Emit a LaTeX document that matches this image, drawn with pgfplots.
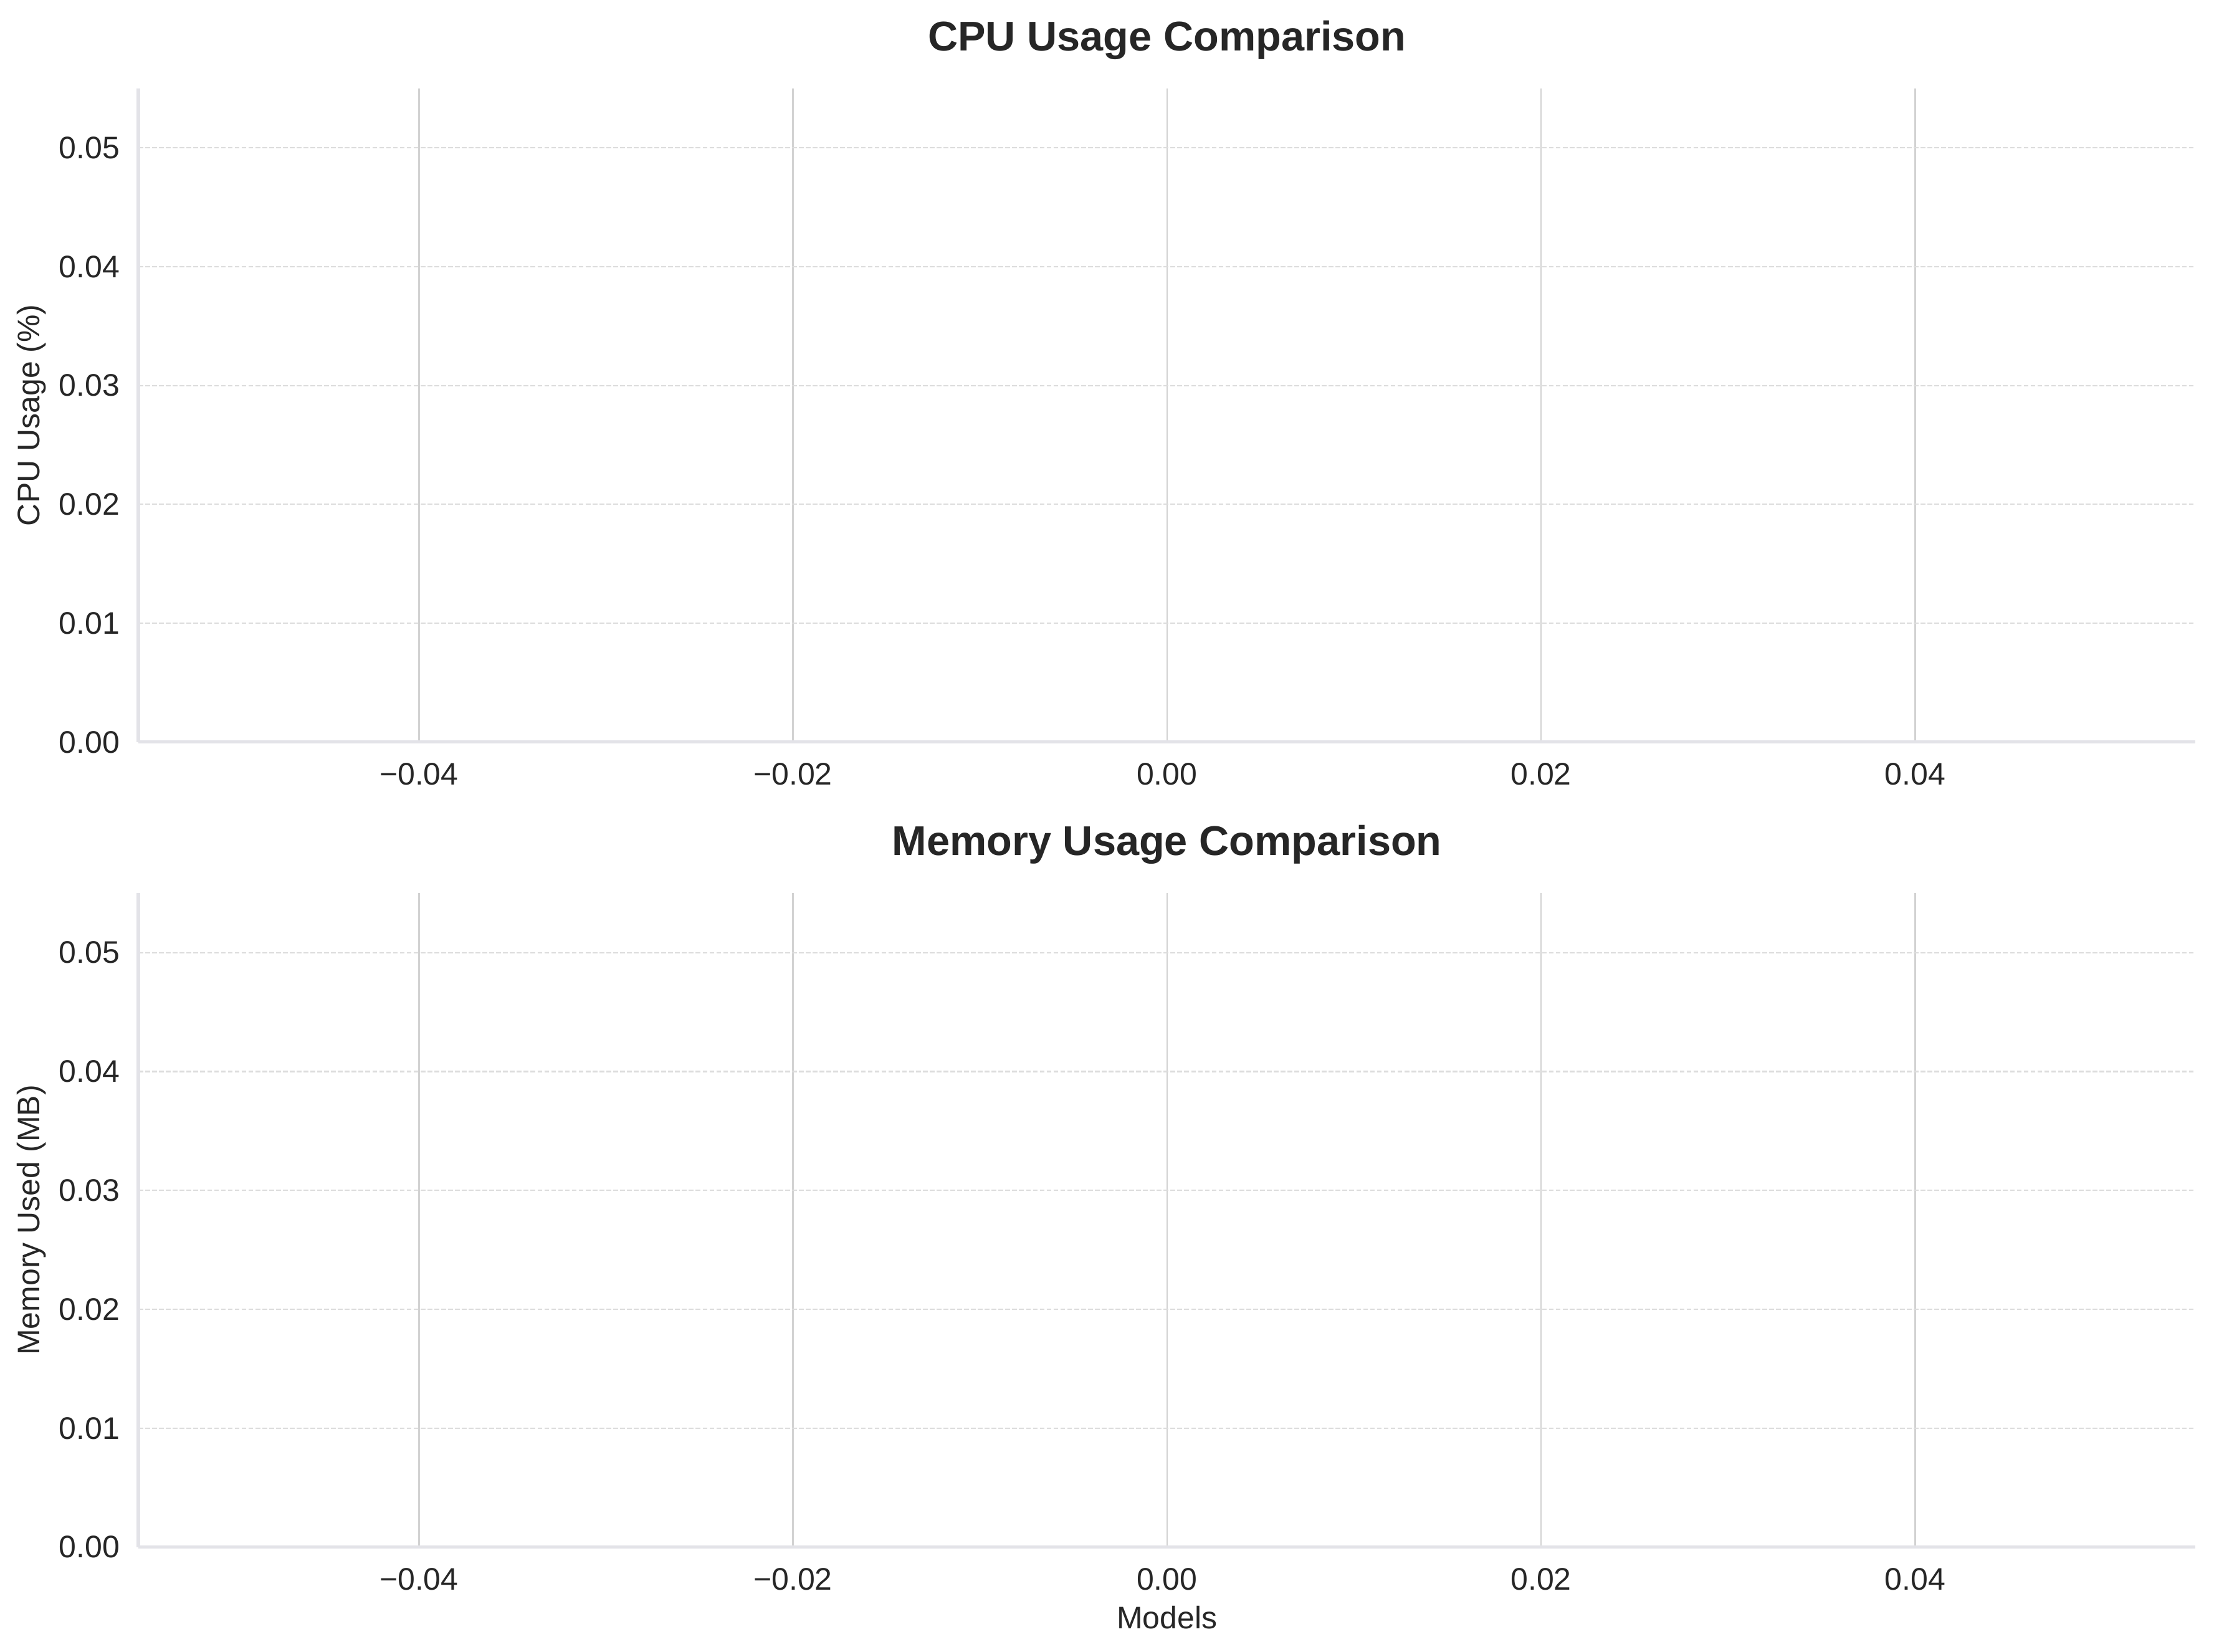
\documentclass[border=0pt]{standalone}
\usepackage{fontspec}
\setmainfont{Liberation Sans}
\usepackage{pgfplots}
\pgfplotsset{compat=1.18}
\definecolor{txt}{HTML}{262626}
\definecolor{spine}{HTML}{E3E3E8}
\definecolor{vgrid}{HTML}{D2D2D2}
\definecolor{hgrid}{HTML}{DCDCDC}
\pgfplotsset{
 myaxis/.style={
  scale only axis, width=792.3pt, height=251.8pt, anchor=south west,
  xmin=-0.055, xmax=0.055, ymin=0, ymax=0.055,
  scaled ticks=false,
  xtick={-0.04,-0.02,0,0.02,0.04}, xticklabels={−0.04,−0.02,0.00,0.02,0.04},
  ytick={0,0.01,0.02,0.03,0.04,0.05}, yticklabels={0.00,0.01,0.02,0.03,0.04,0.05},
  major tick length=0pt,
  axis x line*=bottom, axis y line*=left,
  axis line style={spine, line width=1.25pt, -},
  xmajorgrids, ymajorgrids,
  x grid style={vgrid, line width=0.6pt},
  y grid style={hgrid, line width=0.5pt, dash pattern=on 1.85pt off 0.8pt},
  tick label style={font=\fontsize{12}{14}\selectfont, text=txt, inner sep=0pt},
  xticklabel style={yshift=-8pt},
  yticklabel style={xshift=-7pt},
  every axis title/.style={at={(axis description cs:0.5,1)}, anchor=base, yshift=14.5pt, font=\bfseries\fontsize{16}{19}\selectfont, text=txt},
  every axis y label/.style={at={(axis description cs:-0.0521,0.5)}, rotate=90, anchor=center, font=\fontsize{12}{14}\selectfont, text=txt},
  every axis x label/.style={at={(axis description cs:0.5,-0.108)}, anchor=center, font=\fontsize{12}{14}\selectfont, text=txt},
 }
}
\begin{document}
\begin{tikzpicture}
\useasboundingbox (0,0) rectangle (852.7pt,636pt);
\begin{axis}[myaxis, at={(53.3pt,350.2pt)},
  title={CPU Usage Comparison}, ylabel={CPU Usage (\%)}]
\end{axis}
\begin{axis}[myaxis, at={(53.3pt,40.2pt)},
  title={Memory Usage Comparison}, ylabel={Memory Used (MB)}, xlabel={Models}]
\end{axis}
\end{tikzpicture}
\end{document}
